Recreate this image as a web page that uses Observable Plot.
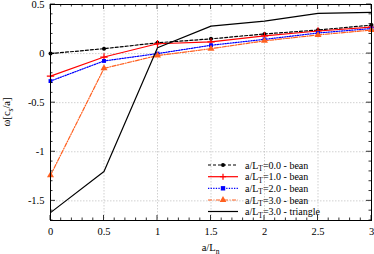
<!DOCTYPE html>
<html>
<head>
<meta charset="utf-8">
<script src="https://cdn.jsdelivr.net/npm/d3@7"></script>
<script src="https://cdn.jsdelivr.net/npm/@observablehq/plot@0.6"></script>
<style>
  html, body { margin: 0; padding: 0; background: #fff; }
  #chart svg { display: block; }
  #chart svg text { font-family: "Liberation Serif", "DejaVu Serif", serif !important; }
</style>
</head>
<body>
<div id="chart"></div>
<script>
const aLn = [0, 0.5, 1, 1.5, 2, 2.5, 3];
const bean00 = [0.00, 0.05, 0.11, 0.15, 0.20, 0.24, 0.29];
const bean10 = [-0.23, -0.035, 0.10, 0.12, 0.18, 0.23, 0.27];
const bean20 = [-0.28, -0.075, 0.00, 0.085, 0.145, 0.21, 0.255];
const bean30 = [-1.24, -0.15, -0.02, 0.05, 0.13, 0.19, 0.24];
const tri30  = [-1.62, -1.20, 0.06, 0.28, 0.33, 0.41, 0.42];

const seriesNames = ["0.0 - bean", "1.0 - bean", "2.0 - bean", "3.0 - bean", "3.0 - triangle"];
const seriesValues = [bean00, bean10, bean20, bean30, tri30];
const xTicks = [0, 0.5, 1, 1.5, 2, 2.5, 3];
const yTicks = [-1.5, -1, -0.5, 0, 0.5];

const styles = [
  {stroke: "#000000", dash: "3,2", symbol: "circle", r: 2},
  {stroke: "#ff0000", dash: null, symbol: "plus", r: 2.5},
  {stroke: "#0000ff", dash: "1.3,1.3", symbol: "square", r: 2.2},
  {stroke: "#ff6020", dash: "4,1.5,1,1.5", symbol: "triangle", r: 2.6},
  {stroke: "#000000", dash: null, symbol: null, r: 0}
];

const rows = [];
seriesNames.forEach((name, i) => {
  aLn.forEach((x, j) => rows.push({series: name, idx: i, x, y: seriesValues[i][j]}));
});

const marks = [
  Plot.gridX(xTicks, {stroke: "#b0b0b0", strokeOpacity: 1, strokeWidth: 0.6, strokeDasharray: "1.5,1.5"}),
  Plot.gridY(yTicks, {stroke: "#b0b0b0", strokeOpacity: 1, strokeWidth: 0.6, strokeDasharray: "1.5,1.5"}),
  Plot.axisX(xTicks, {tickSize: 0, tickPadding: 7, tickFormat: d => String(d), fontSize: 10.5}),
  Plot.axisY(yTicks, {tickSize: 0, tickPadding: 6, tickFormat: d => String(d), fontSize: 10.5, label: null}),
];
seriesNames.forEach((name, i) => {
  const s = styles[i];
  const data = rows.filter(d => d.idx === i);
  marks.push(Plot.line(data, {x: "x", y: "y", stroke: s.stroke, strokeWidth: 1.2, strokeDasharray: s.dash}));
  if (s.symbol) {
    marks.push(Plot.dot(data, {x: "x", y: "y", symbol: s.symbol, r: s.r,
      fill: s.symbol === "plus" ? "none" : s.stroke,
      stroke: s.symbol === "plus" ? s.stroke : "none", strokeWidth: 1.2}));
  }
});
marks.push(Plot.frame({stroke: "#000", strokeWidth: 1}));

const plot = Plot.plot({
  width: 374,
  height: 254,
  marginLeft: 50,
  marginRight: 3,
  marginTop: 4,
  marginBottom: 34,
  style: {fontFamily: "'Liberation Serif', 'DejaVu Serif', serif", fontSize: "10px", background: "#fff", color: "#000"},
  x: {domain: [0, 3], label: null},
  y: {domain: [-1.7, 0.5], label: null},
  marks
});
document.getElementById("chart").appendChild(plot);

// inward ticks on all four sides, labels with subscripts, legend
const svg = d3.select(plot);
const xs = plot.scale("x"), ys = plot.scale("y");
const X = v => xs.apply(v), Y = v => ys.apply(v);
const pLeft = 50, pRight = 374 - 3, pTop = 4, pBottom = 254 - 34;
const g = svg.append("g").attr("stroke", "#000").attr("stroke-width", 0.8);
d3.range(0, 3.0001, 0.1).forEach((v, i) => {
  const major = i % 5 === 0;
  const len = major ? 5 : 2.5;
  const x = X(v);
  g.append("line").attr("x1", x).attr("x2", x).attr("y1", pBottom).attr("y2", pBottom - len);
  g.append("line").attr("x1", x).attr("x2", x).attr("y1", pTop).attr("y2", pTop + len);
});
d3.range(-1.7, 0.5001, 0.1).forEach(v => {
  const vr = Math.round(v * 10) / 10;
  const major = Math.abs(vr * 2 - Math.round(vr * 2)) < 1e-6;
  const len = major ? 5 : 2.5;
  const y = Y(vr);
  g.append("line").attr("x1", pLeft).attr("x2", pLeft + len).attr("y1", y).attr("y2", y);
  g.append("line").attr("x1", pRight).attr("x2", pRight - len).attr("y1", y).attr("y2", y);
});

const font = "'Liberation Serif', 'DejaVu Serif', serif";
// x label
const xl = svg.append("text").attr("x", (pLeft + pRight) / 2).attr("y", 251)
  .attr("text-anchor", "middle").attr("font-family", font).attr("font-size", 10.5).attr("fill", "#000");
xl.append("tspan").text("a/L");
xl.append("tspan").attr("font-size", 7.5).attr("dy", 2.5).text("n");
// y label
const yl = svg.append("text").attr("transform", `translate(10,${(pTop + pBottom) / 2}) rotate(-90)`)
  .attr("text-anchor", "middle").attr("font-family", font).attr("font-size", 10.5).attr("fill", "#000");
yl.append("tspan").text("ω[c");
yl.append("tspan").attr("font-size", 7.5).attr("dy", 2.5).text("s");
yl.append("tspan").attr("dy", -2.5).text("/a]");

// legend
const lg = svg.append("g");
const rowY = [165, 176.7, 188.3, 200, 211.5];
seriesNames.forEach((name, i) => {
  const s = styles[i];
  const y = rowY[i];
  lg.append("line").attr("x1", 208).attr("x2", 238).attr("y1", y).attr("y2", y)
    .attr("stroke", s.stroke).attr("stroke-width", 1.2).attr("stroke-dasharray", s.dash);
  if (s.symbol) {
    const sym = {circle: d3.symbolCircle, square: d3.symbolSquare, triangle: d3.symbolTriangle, plus: d3.symbolPlus}[s.symbol];
    const size = s.symbol === "circle" ? Math.PI * s.r * s.r : s.symbol === "square" ? (2 * s.r) ** 2 : s.symbol === "plus" ? 14 : 20;
    const isPlus = s.symbol === "plus";
    lg.append("path").attr("d", d3.symbol(sym, size)()).attr("transform", `translate(223,${y})`)
      .attr("fill", isPlus ? "none" : s.stroke).attr("stroke", isPlus ? s.stroke : "none").attr("stroke-width", 1.2);
  }
  const t = lg.append("text").attr("x", 245).attr("y", y + 3.5).attr("font-family", font)
    .attr("text-anchor", "start").attr("font-size", 10).attr("fill", "#000");
  t.append("tspan").text("a/L");
  t.append("tspan").attr("font-size", 7.5).attr("dy", 2.5).text("T");
  t.append("tspan").attr("dy", -2.5).text("=" + name);
});
</script>
</body>
</html>
